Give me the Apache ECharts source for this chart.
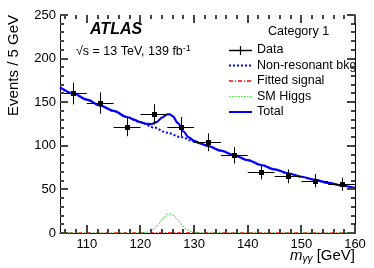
<!DOCTYPE html>
<html><head><meta charset="utf-8">
<script src="https://cdn.jsdelivr.net/npm/echarts@6/dist/echarts.min.js"></script>
<style>html,body{margin:0;padding:0;background:#fff}#c{width:374px;height:268px}</style>
</head><body><div id="c"></div>
<script>
// Data points (bin centres, events, stat errors)
const binCentres = [107.5,112.5,117.5,122.5,127.5,132.5,137.5,142.5,147.5,152.5,157.5];
const events     = [160,149,122,136,122,104,89,70,65,60,56];
const errors     = [12.5,12.2,11,11.7,11,10.2,9.4,8.4,8,7.7,7.5];
// Non-resonant background curve
const bkgMass = [105,107.5,110,112.5,115,117.5,120,122.5,125,127.5,130,132.5,135,137.5,140,142.5,145,147.5,150,152.5,155,157.5,160];
const bkgVals = [167,160,153,146,140,133,127,121,115,110,105,100,94.5,89,83.5,78,73,68.5,64.5,61,57.5,54.5,51.5];
// Total (bkg + signal)
const totMass = [105,107.5,110,112.5,115,117.5,119,120,121,122,123,124,125,125.5,126,127,128,129,130,131,132.5,135,137.5,140,142.5,145,147.5,150,152.5,155,157.5,160];
const totVals = [167,160,153,146,140,133,129.5,127.1,125.3,124.8,127.2,132.3,136,136,134,125.9,116.4,109.6,105.7,103.1,100,94.5,89,83.5,78,73,68.5,64.5,61,57.5,54.5,51.5];
// SM Higgs curve
const higgsMass = [105,119.5,120,120.5,121,121.5,122,122.5,123,123.5,124,124.5,125,125.5,126,126.5,127,127.5,128,128.5,129,129.5,130,130.5,131,131.5,160];
const higgsVals = [0,0,0.1,0.3,0.7,1.4,2.7,4.6,7.4,11,14.9,18.4,21,22,21,18.4,14.9,11,7.4,4.6,2.7,1.4,0.7,0.3,0.1,0,0];
// Fitted signal curve
const sigMass = [105,160];
const sigVals = [0,0];
// Axis ticks
const xMajor = [110,120,130,140,150,160];
const xMinor = [106,108,112,114,116,118,122,124,126,128,132,134,136,138,142,144,146,148,152,154,156,158];
const yMajor = [0,50,100,150,200,250];
const yMinor = [10,20,30,40,60,70,80,90,110,120,130,140,160,170,180,190,210,220,230,240];

const F = 'Liberation Sans, Arial, sans-serif';
const pairs = (a,b)=>a.map((v,i)=>[v,b[i]]);
const px = v=>Math.round(v)+0.5;
const chart = echarts.init(document.getElementById('c'));
const frame = {show:true,lineStyle:{color:'#000',width:1}};
const tickData = xMajor.map(v=>[v,0,8]).concat(xMinor.map(v=>[v,0,4]))
  .concat(yMajor.map(v=>[105,v,-8])).concat(yMinor.map(v=>[105,v,-4]));
const option = {
  animation:false,
  grid:{left:60,right:19,top:15,bottom:35,containLabel:false},
  xAxis:[
    {type:'value',min:105,max:160,position:'bottom',axisLine:frame,axisTick:{show:false},minorTick:{show:false},
     axisLabel:{show:true,customValues:xMajor,color:'#000',fontSize:13,fontFamily:F,margin:5},splitLine:{show:false}},
    {type:'value',min:105,max:160,position:'top',axisLine:frame,axisTick:{show:false},axisLabel:{show:false},splitLine:{show:false}}
  ],
  yAxis:[
    {type:'value',min:0,max:250,interval:50,position:'left',axisLine:frame,axisTick:{show:false},minorTick:{show:false},
     axisLabel:{show:true,color:'#000',fontSize:13,fontFamily:F,margin:4},splitLine:{show:false}},
    {type:'value',min:0,max:250,interval:50,position:'right',axisLine:frame,axisTick:{show:false},axisLabel:{show:false},splitLine:{show:false}}
  ],
  series:[
    {type:'custom',z:10,
      data:tickData,
      renderItem:function(params,api){
        const x=api.value(0),y=api.value(1),len=api.value(2);
        const st={stroke:'#444',lineWidth:2};
        if (len>0){ // x-axis tick: bottom and top
          const b=api.coord([x,0]),t=api.coord([x,250]);
          return {type:'group',children:[
            {type:'line',shape:{x1:Math.round(b[0]),y1:b[1],x2:Math.round(b[0]),y2:b[1]-len},style:st},
            {type:'line',shape:{x1:Math.round(t[0]),y1:t[1],x2:Math.round(t[0]),y2:t[1]+len},style:st}
          ]};
        }
        const l=api.coord([105,y]),r=api.coord([160,y]);
        return {type:'group',children:[
          {type:'line',shape:{x1:l[0],y1:Math.round(l[1]),x2:l[0]-len,y2:Math.round(l[1])},style:st},
          {type:'line',shape:{x1:r[0],y1:Math.round(r[1]),x2:r[0]+len,y2:Math.round(r[1])},style:st}
        ]};
      }},
    {type:'line',data:pairs(sigMass,sigVals),symbol:'none',lineStyle:{color:'#ff0000',width:1.5,type:[4,2,1,2]},z:2},
    {type:'line',data:pairs(higgsMass,higgsVals),symbol:'none',lineStyle:{color:'#33ee33',width:1.2,type:[1.5,1.5]},z:3},
    {type:'line',data:pairs(bkgMass,bkgVals),symbol:'none',smooth:0.3,smoothMonotone:'x',lineStyle:{color:'#0000ff',width:2,type:[2,2]},z:4},
    {type:'line',data:pairs(totMass,totVals),symbol:'none',smooth:0.3,smoothMonotone:'x',lineStyle:{color:'#0000ff',width:2.2},z:5},
    {type:'custom',z:6,data:binCentres.map((x,i)=>[x,events[i],errors[i]]),
      renderItem:function(params,api){
        const x=api.value(0),y=api.value(1),e=api.value(2);
        const c=api.coord([x,y]),l=api.coord([x-2.5,y]),r=api.coord([x+2.5,y]);
        const t=api.coord([x,y+e]),b=api.coord([x,y-e]);
        const st={stroke:'#000',lineWidth:1};
        return {type:'group',children:[
          {type:'line',shape:{x1:l[0],y1:px(l[1]),x2:r[0],y2:px(r[1])},style:st},
          {type:'line',shape:{x1:px(t[0]),y1:t[1],x2:px(b[0]),y2:b[1]},style:st},
          {type:'rect',shape:{x:Math.round(c[0])-2,y:Math.round(c[1])-2,width:5,height:5},style:{fill:'#000'}}
        ]};
      }}
  ],
  graphic:[
    {type:'text',x:14,y:15,rotation:Math.PI/2,style:{text:'Events / 5 GeV',font:'15px '+F,fill:'#000',align:'right',verticalAlign:'middle'}},
    {type:'text',x:355,y:256,style:{text:'{i|m}{s|γγ} [GeV]',align:'right',verticalAlign:'middle',font:'15px '+F,fill:'#000',
      rich:{i:{fontStyle:'italic',fontSize:15,fontFamily:F},s:{fontStyle:'italic',fontSize:10,fontFamily:F,verticalAlign:'bottom',padding:[6,0,0,0]}}}},
    {type:'text',x:90,y:30,style:{text:'ATLAS',font:'italic bold 16px '+F,fill:'#000',verticalAlign:'middle'}},
    {type:'text',x:76,y:52,style:{text:'√s = 13 TeV, 139 fb{sup|-1}',font:'12.5px '+F,fill:'#000',verticalAlign:'middle',
      rich:{sup:{fontSize:9,fontFamily:F,verticalAlign:'top',padding:[0,0,7,0]}}}},
    {type:'text',x:268,y:32,style:{text:'Category 1',font:'12.5px '+F,fill:'#000',verticalAlign:'middle'}},
    {type:'line',shape:{x1:229,y1:50.5,x2:252,y2:50.5},style:{stroke:'#000',lineWidth:1.5}},
    {type:'line',shape:{x1:240.5,y1:46,x2:240.5,y2:55},style:{stroke:'#000',lineWidth:1.2}},
    {type:'text',x:257,y:50,style:{text:'Data',font:'12.5px '+F,fill:'#000',verticalAlign:'middle'}},
    {type:'line',shape:{x1:229,y1:65.5,x2:252,y2:65.5},style:{stroke:'#0000ff',lineWidth:2,lineDash:[2,2]}},
    {type:'text',x:257,y:65.5,style:{text:'Non-resonant bkg',font:'12.5px '+F,fill:'#000',verticalAlign:'middle'}},
    {type:'line',shape:{x1:229,y1:81,x2:252,y2:81},style:{stroke:'#ff0000',lineWidth:1.5,lineDash:[4,2,1,2]}},
    {type:'text',x:257,y:81,style:{text:'Fitted signal',font:'12.5px '+F,fill:'#000',verticalAlign:'middle'}},
    {type:'line',shape:{x1:229,y1:96.5,x2:252,y2:96.5},style:{stroke:'#33ee33',lineWidth:1.2,lineDash:[1.5,1.5]}},
    {type:'text',x:257,y:96.5,style:{text:'SM Higgs',font:'12.5px '+F,fill:'#000',verticalAlign:'middle'}},
    {type:'line',shape:{x1:229,y1:112,x2:252,y2:112},style:{stroke:'#0000ff',lineWidth:2}},
    {type:'text',x:257,y:112,style:{text:'Total',font:'12.5px '+F,fill:'#000',verticalAlign:'middle'}}
  ]
};
chart.setOption(option);
</script></body></html>
